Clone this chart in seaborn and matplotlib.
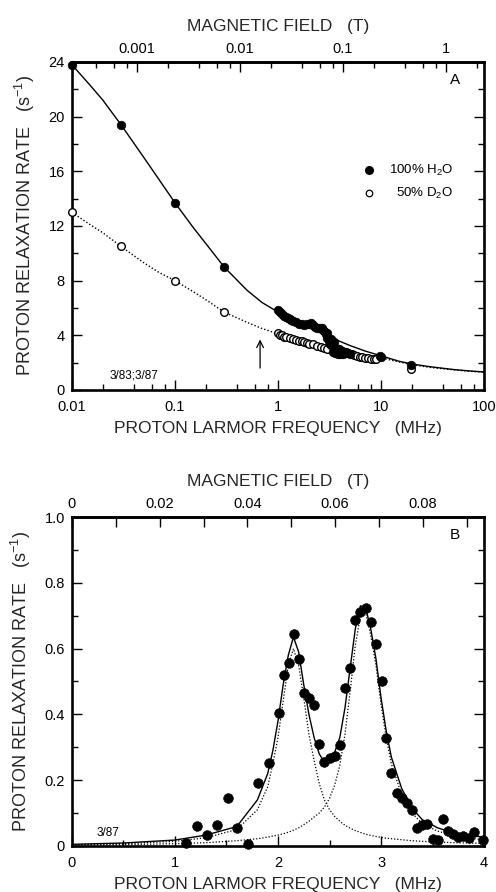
import numpy as np
import pandas as pd
import matplotlib
matplotlib.use("Agg")
import matplotlib.pyplot as plt
import seaborn as sns

# ---------------- data: panel A ----------------
h2o_f = [0.01, 0.03, 0.1, 0.3,
         1.0, 1.05, 1.1, 1.15, 1.2, 1.25, 1.3, 1.35, 1.4, 1.5, 1.6, 1.7, 1.8, 1.9,
         2.0, 2.1, 2.2, 2.3, 2.4, 2.5, 2.6, 2.7, 2.8, 2.9, 3.0, 3.1, 3.2, 3.3, 3.4,
         3.5, 3.6, 3.7, 3.8, 3.9, 4.0, 4.2, 4.4, 4.6, 4.8, 5.0,
         3.0, 3.3, 3.5, 3.4, 3.6, 3.8, 4.0, 4.3, 9.8, 10.0, 19.5]
h2o_v = [23.8, 19.4, 13.7, 9.0,
         5.85, 5.7, 5.55, 5.45, 5.35, 5.3, 5.2, 5.15, 5.05, 4.95, 4.85, 4.8, 4.75, 4.8,
         4.85, 4.9, 4.75, 4.6, 4.55, 4.5, 4.55, 4.5, 4.35, 4.1, 3.8, 3.55, 3.4, 3.3, 3.2,
         3.15, 3.05, 3.0, 2.95, 3.0, 2.9, 2.85, 2.8, 2.75, 2.7, 2.65,
         4.2, 3.7, 3.5, 2.8, 2.7, 2.65, 2.6, 2.6, 2.5, 2.4, 1.85]

d2o_f = [0.01, 0.03, 0.1, 0.3,
         1.0, 1.05, 1.1, 1.15, 1.2, 1.3, 1.4, 1.5, 1.6, 1.7, 1.8, 1.9, 2.0, 2.2,
         2.4, 2.6, 2.8, 3.0, 5.2, 5.5, 5.8, 6.2, 6.6, 7.0, 7.5, 8.0, 8.5, 9.0, 19.5]
d2o_v = [13.0, 10.5, 8.0, 5.7,
         4.15, 4.05, 4.0, 3.9, 3.85, 3.8, 3.7, 3.65, 3.6, 3.55, 3.5, 3.45, 3.4, 3.35,
         3.25, 3.15, 3.1, 3.0, 2.6, 2.55, 2.5, 2.45, 2.4, 2.35, 2.35, 2.3, 2.3, 2.3, 1.5]

fitA_f = [0.01, 0.015, 0.02, 0.03, 0.05, 0.07, 0.1, 0.15, 0.2, 0.3, 0.5, 0.7, 1, 1.5,
          2, 3, 5, 7, 10, 15, 20, 30, 50, 70, 100]
fitA_h2o = [23.8, 22.3, 21.2, 19.4, 17.0, 15.4, 13.7, 11.9, 10.7, 9.0, 7.3, 6.4, 5.7,
            4.95, 4.55, 3.95, 3.25, 2.85, 2.5, 2.1, 1.9, 1.7, 1.5, 1.4, 1.32]
fitA_d2o = [13.0, 12.1, 11.5, 10.5, 9.3, 8.6, 8.0, 7.2, 6.6, 5.7, 4.95, 4.5, 4.1,
            3.7, 3.45, 3.1, 2.75, 2.55, 2.35, 2.05, 1.85, 1.65, 1.48, 1.38, 1.3]

# ---------------- data: panel B ----------------
b_f = [1.11, 1.21, 1.31, 1.41, 1.51, 1.60, 1.71, 1.81, 1.91, 2.01, 2.06, 2.11, 2.155,
       2.20, 2.25, 2.30, 2.35, 2.40, 2.45, 2.50, 2.55, 2.60, 2.65, 2.70, 2.75, 2.80,
       2.85, 2.90, 2.95, 3.01, 3.05, 3.10, 3.15, 3.20, 3.25, 3.30, 3.35, 3.40, 3.45,
       3.50, 3.55, 3.60, 3.65, 3.70, 3.75, 3.80, 3.85, 3.90, 3.99]
b_v = [0.010, 0.061, 0.033, 0.064, 0.147, 0.056, 0.006, 0.192, 0.253, 0.403, 0.52,
       0.555, 0.644, 0.568, 0.464, 0.451, 0.43, 0.309, 0.256, 0.266, 0.274, 0.307,
       0.481, 0.542, 0.687, 0.712, 0.722, 0.681, 0.614, 0.502, 0.329, 0.221, 0.16,
       0.147, 0.132, 0.109, 0.054, 0.064, 0.067, 0.021, 0.018, 0.081, 0.047, 0.037,
       0.028, 0.030, 0.023, 0.041, 0.018]

fitB_f = [0.0, 0.5, 1.0, 1.3, 1.6, 1.8, 1.9, 1.95, 2.0, 2.05, 2.1, 2.15, 2.2, 2.25,
          2.3, 2.35, 2.4, 2.45, 2.5, 2.55, 2.6, 2.65, 2.7, 2.75, 2.8, 2.85, 2.9, 2.95,
          3.0, 3.05, 3.1, 3.2, 3.3, 3.4, 3.55, 3.7, 3.85, 4.0]
fitB_sum = [0.005, 0.009, 0.018, 0.033, 0.059, 0.14, 0.22, 0.29, 0.38, 0.49, 0.58,
            0.635, 0.59, 0.49, 0.40, 0.33, 0.28, 0.255, 0.26, 0.285, 0.33, 0.42, 0.54,
            0.66, 0.73, 0.725, 0.66, 0.57, 0.45, 0.35, 0.27, 0.175, 0.115, 0.08, 0.055,
            0.04, 0.032, 0.027]
fitB_p1 = [0.004, 0.007, 0.014, 0.025, 0.05, 0.11, 0.18, 0.25, 0.33, 0.44, 0.55, 0.60,
           0.55, 0.45, 0.34, 0.26, 0.19, 0.14, 0.11, 0.09, 0.075, 0.063, 0.054, 0.047,
           0.041, 0.036, 0.032, 0.029, 0.026, 0.024, 0.022, 0.019, 0.016, 0.014, 0.012,
           0.010, 0.009, 0.008]
fitB_p2 = [0.003, 0.004, 0.007, 0.010, 0.016, 0.022, 0.027, 0.030, 0.033, 0.037, 0.042,
           0.048, 0.055, 0.065, 0.075, 0.088, 0.10, 0.118, 0.145, 0.185, 0.245, 0.34,
           0.47, 0.61, 0.70, 0.71, 0.64, 0.55, 0.43, 0.33, 0.25, 0.155, 0.10, 0.068,
           0.045, 0.032, 0.024, 0.019]

GAMMA = 42.58  # MHz per tesla (proton)

# ---------------- style ----------------
sns.set_theme(style="ticks")
plt.rcParams["font.family"] = ["Liberation Sans", "DejaVu Sans"]
plt.rcParams["mathtext.fontset"] = "custom"
plt.rcParams["mathtext.rm"] = "Liberation Sans"
plt.rcParams["mathtext.it"] = "Liberation Sans"
plt.rcParams["axes.linewidth"] = 1.9
plt.rcParams["axes.edgecolor"] = "black"
plt.rcParams["text.color"] = "black"
plt.rcParams["xtick.color"] = "black"
plt.rcParams["ytick.color"] = "black"

fig = plt.figure(figsize=(4.96, 8.92), dpi=100)
axA = fig.add_axes([0.145, 0.5628, 0.831, 0.3677])
axB = fig.add_axes([0.145, 0.0516, 0.831, 0.3688])

TICKFS = 10.5
LABFS = 12.5


def style_ticks(ax):
    ax.tick_params(which="both", direction="in", top=False, right=True,
                   labelsize=TICKFS)
    ax.tick_params(axis="x", which="both", pad=7)
    ax.tick_params(axis="y", which="both", pad=5)
    ax.tick_params(which="major", length=7, width=1.0)
    ax.tick_params(which="minor", length=4, width=1.0)


# ---------------- panel A ----------------
dfA1 = pd.DataFrame({"f": h2o_f, "v": h2o_v})
dfA2 = pd.DataFrame({"f": d2o_f, "v": d2o_v})
dfAfit = pd.DataFrame({"f": fitA_f, "h2o": fitA_h2o, "d2o": fitA_d2o})

axA.set_xscale("log")
sns.lineplot(data=dfAfit, x="f", y="h2o", ax=axA, color="black", lw=1.0,
             estimator=None, sort=True)
sns.lineplot(data=dfAfit, x="f", y="d2o", ax=axA, color="black", lw=1.0,
             linestyle=(0, (1, 1.5)), estimator=None, sort=True)
sns.scatterplot(data=dfA2, x="f", y="v", ax=axA, marker="o", s=30,
                facecolor="white", edgecolor="black", linewidth=1.0,
                clip_on=False, zorder=3)
sns.scatterplot(data=dfA1, x="f", y="v", ax=axA, marker="o", s=38,
                color="black", edgecolor="black", linewidth=0.5,
                clip_on=False, zorder=4)
axA.set_xlim(0.01, 100)
axA.set_ylim(0, 24)
axA.set_xticks([0.01, 0.1, 1, 10, 100])
axA.set_xticklabels(["0.01", "0.1", "1", "10", "100"])
axA.set_xticks([m * d for d in [0.01, 0.1, 1, 10] for m in [2, 4, 6, 8]], minor=True)
axA.set_xticklabels([], minor=True)
axA.set_yticks([0, 4, 8, 12, 16, 20, 24])
axA.set_yticks([2, 6, 10, 14, 18, 22], minor=True)
style_ticks(axA)
axA.set_xlabel("PROTON LARMOR FREQUENCY   (MHz)", fontsize=LABFS, labelpad=5)
axA.set_ylabel("PROTON RELAXATION RATE   (s$^{-1}$)", fontsize=LABFS + 0.5,
               labelpad=8)

secA = axA.secondary_xaxis("top", functions=(lambda f: f / GAMMA,
                                              lambda b: b * GAMMA))
secA.set_xticks([0.001, 0.01, 0.1, 1])
secA.set_xticklabels(["0.001", "0.01", "0.1", "1"])
secA.set_xticks([m * d for d in [0.0001, 0.001, 0.01, 0.1, 1] for m in [2, 4, 6, 8]
                 if 0.01 / GAMMA < m * d < 100 / GAMMA], minor=True)
secA.set_xticklabels([], minor=True)
secA.tick_params(which="both", direction="in", labelsize=TICKFS, pad=4)
secA.tick_params(which="major", length=7, width=1.0)
secA.tick_params(which="minor", length=4, width=1.0)
secA.set_xlabel("MAGNETIC FIELD   (T)", fontsize=LABFS, labelpad=8)

axA.text(0.93, 0.945, "A", transform=axA.transAxes, fontsize=11,
         ha="center", va="center")
axA.text(0.092, 0.045, "3/83;3/87", transform=axA.transAxes, fontsize=8.5,
         ha="left", va="center")
axA.annotate("", xy=(0.67, 3.9), xytext=(0.67, 1.4),
             arrowprops=dict(arrowstyle="->", color="black", lw=0.9))
# legend
axA.scatter([0.72], [0.67], transform=axA.transAxes, s=30, color="black")
axA.scatter([0.72], [0.60], transform=axA.transAxes, s=22, facecolor="white",
            edgecolor="black", linewidth=0.9)
axA.text(0.925, 0.67, "100% H$_2$O", transform=axA.transAxes, fontsize=9.5,
         ha="right", va="center")
axA.text(0.925, 0.60, "50% D$_2$O", transform=axA.transAxes, fontsize=9.5,
         ha="right", va="center")
if axA.get_legend() is not None:
    axA.get_legend().remove()

# ---------------- panel B ----------------
dfB = pd.DataFrame({"f": b_f, "v": b_v})
dfBfit = pd.DataFrame({"f": fitB_f, "sum": fitB_sum, "p1": fitB_p1, "p2": fitB_p2})

sns.lineplot(data=dfBfit, x="f", y="p1", ax=axB, color="black", lw=0.9,
             linestyle=(0, (1, 1.5)), estimator=None, sort=True)
sns.lineplot(data=dfBfit, x="f", y="p2", ax=axB, color="black", lw=0.9,
             linestyle=(0, (1, 1.5)), estimator=None, sort=True)
sns.lineplot(data=dfBfit, x="f", y="sum", ax=axB, color="black", lw=1.0,
             estimator=None, sort=True)
sns.scatterplot(data=dfB, x="f", y="v", ax=axB, marker="o", s=48, color="black",
                edgecolor="black", linewidth=0.5, clip_on=False, zorder=4)
axB.set_xlim(0, 4)
axB.set_ylim(0, 1.0)
axB.set_xticks([0, 1, 2, 3, 4])
axB.set_xticklabels(["0", "1", "2", "3", "4"])
axB.set_xticks([0.5, 1.5, 2.5, 3.5], minor=True)
axB.set_yticks([0, 0.2, 0.4, 0.6, 0.8, 1.0])
axB.set_yticklabels(["0", "0.2", "0.4", "0.6", "0.8", "1.0"])
axB.set_yticks([0.1, 0.3, 0.5, 0.7, 0.9], minor=True)
style_ticks(axB)
axB.set_xlabel("PROTON LARMOR FREQUENCY   (MHz)", fontsize=LABFS, labelpad=5)
axB.set_ylabel("PROTON RELAXATION RATE   (s$^{-1}$)", fontsize=LABFS + 0.5,
               labelpad=8)

secB = axB.secondary_xaxis("top", functions=(lambda f: f / GAMMA,
                                              lambda b: b * GAMMA))
secB.set_xticks([0, 0.02, 0.04, 0.06, 0.08])
secB.set_xticklabels(["0", "0.02", "0.04", "0.06", "0.08"])
secB.set_xticks([0.01, 0.03, 0.05, 0.07, 0.09], minor=True)
secB.tick_params(which="both", direction="in", labelsize=TICKFS, pad=4)
secB.tick_params(which="major", length=7, width=1.0)
secB.tick_params(which="minor", length=7, width=1.0)
secB.set_xlabel("MAGNETIC FIELD   (T)", fontsize=LABFS, labelpad=8)

axB.text(0.93, 0.945, "B", transform=axB.transAxes, fontsize=11,
         ha="center", va="center")
axB.text(0.06, 0.04, "3/87", transform=axB.transAxes, fontsize=8.5,
         ha="left", va="center")

for ax in (axA, axB):
    for s in ax.spines.values():
        s.set_linewidth(1.9)

fig.savefig("out.png", dpi=100)
